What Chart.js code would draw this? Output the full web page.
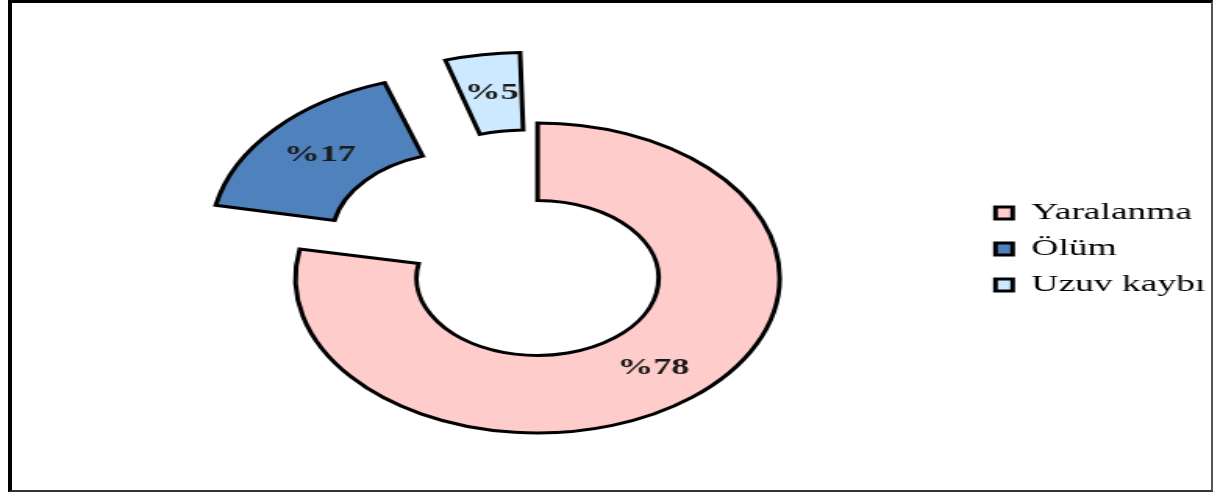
<!DOCTYPE html>
<html lang="tr">
<head>
    <meta charset="UTF-8">
    <title>Yaralanma / Ölüm / Uzuv kaybı</title>
    <script src="https://cdn.jsdelivr.net/npm/chart.js"></script>
    <style>
        html, body { margin: 0; padding: 0; background: #fff; }
        body { width: 1213px; height: 493px; position: relative; overflow: hidden; }
        .frame {
            position: absolute; left: 8px; top: 0; width: 1199px; height: 487px;
            border-left: 4px solid #000; border-top: 3px solid #000;
            border-right: 2px solid #555; border-bottom: 2px solid #333;
        }
        /* the original picture is stretched sideways, so the chart is too */
        .stretch {
            position: absolute; left: 0; top: 0;
            width: 777.6px; height: 493px;
            transform: scaleX(1.56); transform-origin: 0 0;
        }
    </style>
</head>
<body>
    <div class="frame"></div>
    <div class="stretch"><canvas id="pie"></canvas></div>

    <script>
        const categories = ['Yaralanma', 'Ölüm', 'Uzuv kaybı'];
        const shares = [78, 17, 5];

        const sliceColors = ['#FFCCCC', '#4F81BD', '#CCE9FF'];
        const sliceOffsets = [0, 248, 168];

        // percentage text in the middle of each slice
        const sliceLabels = {
            id: 'sliceLabels',
            afterDatasetsDraw(chart) {
                const ctx = chart.ctx;
                const meta = chart.getDatasetMeta(0);
                ctx.save();
                ctx.font = 'bold 23px "Liberation Serif", "Times New Roman", serif';
                ctx.fillStyle = '#1a1a1a';
                ctx.textAlign = 'center';
                ctx.textBaseline = 'middle';
                meta.data.forEach((arc, i) => {
                    const mid = (arc.startAngle + arc.endAngle) / 2;
                    const shift = sliceOffsets[i] / 4;
                    const grow = shift * (1 - Math.sin(Math.min(Math.PI, arc.circumference)));
                    const r = (arc.innerRadius + arc.outerRadius) / 2 + shift + grow;
                    ctx.fillText('%' + shares[i], arc.x + Math.cos(mid) * r, arc.y + Math.sin(mid) * r);
                });
                ctx.restore();
            }
        };

        // legend sits higher than the ring centre in the original
        const legendShift = {
            id: 'legendShift',
            afterLayout(chart) {
                chart.legend.top -= 29;
                chart.legend.bottom -= 29;
                chart.legend.left += 4;
                chart.legend.right += 4;
            }
        };

        new Chart(document.getElementById('pie'), {
            type: 'doughnut',
            data: {
                labels: categories,
                datasets: [{
                    data: shares,
                    backgroundColor: sliceColors,
                    borderColor: '#000',
                    borderWidth: 3,
                    borderJoinStyle: 'miter',
                    offset: sliceOffsets,
                    hoverOffset: 0,
                    clip: false
                }]
            },
            options: {
                responsive: true,
                maintainAspectRatio: false,
                animation: false,
                radius: 155,
                cutout: '50%',
                layout: { padding: { left: 67, top: 63, right: 0, bottom: 0 } },
                plugins: {
                    tooltip: { enabled: false },
                    legend: {
                        position: 'right',
                        labels: {
                            color: '#000',
                            boxWidth: 11,
                            boxHeight: 12,
                            padding: 12,
                            font: { family: '"Liberation Serif", "Times New Roman", serif', size: 24 }
                        }
                    }
                }
            },
            plugins: [sliceLabels, legendShift]
        });
    </script>
</body>
</html>
